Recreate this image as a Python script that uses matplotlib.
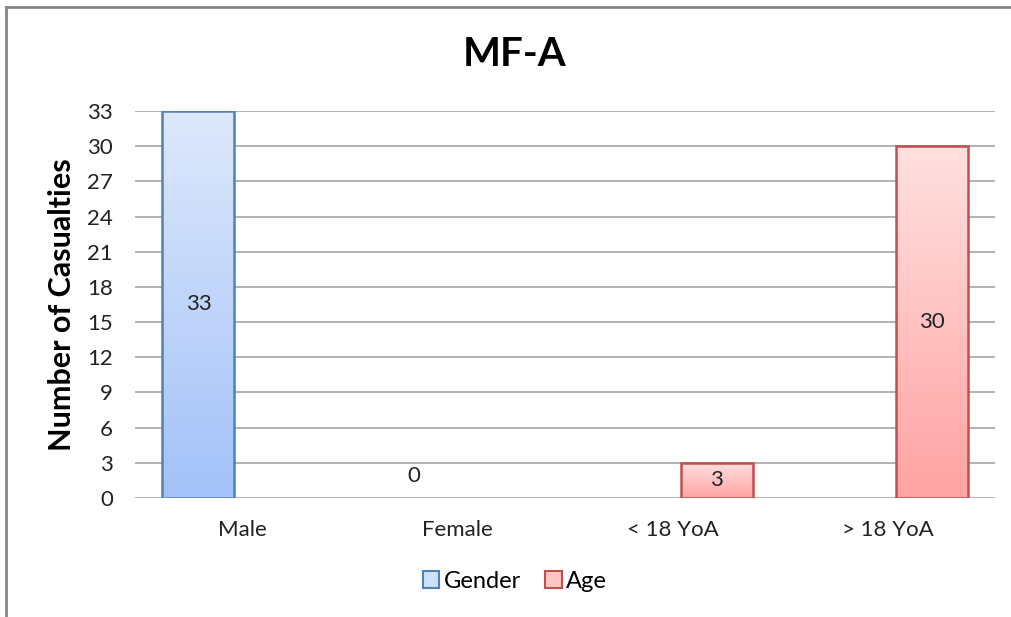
import numpy as np
import matplotlib
matplotlib.use('Agg')
import matplotlib.pyplot as plt
import matplotlib.patches as patches
from matplotlib.colors import LinearSegmentedColormap
from matplotlib.lines import Line2D

plt.rcParams['font.family'] = ['Lato', 'DejaVu Sans']

categories = ['Male', 'Female', '< 18 YoA', '> 18 YoA']
gender = [33, 0, None, None]
age = [None, None, 3, 30]
series_names = ['Gender', 'Age']
yticks = list(range(0, 34, 3))

W, H = 1011, 617
fig = plt.figure(figsize=(W / 100, H / 100), dpi=100)
ax = fig.add_axes([135 / W, 1 - 498 / H, (995 - 135) / W, (498 - 111) / H])

# chart border (only top and left show in the crop)
fig.add_artist(Line2D([5.5 / W, 5.5 / W], [0, 1 - 6.5 / H], color='#868686', lw=2, transform=fig.transFigure))
fig.add_artist(Line2D([5.5 / W, 1], [1 - 6.5 / H, 1 - 6.5 / H], color='#868686', lw=2, transform=fig.transFigure))

blue_cm = LinearSegmentedColormap.from_list('b', ['#dde8fb', '#a3c2f9'])
red_cm = LinearSegmentedColormap.from_list('r', ['#ffe0e0', '#ffa3a3'])

x = np.arange(len(categories))
bw = 0.335
off = 0.205
grad = np.linspace(0, 1, 100).reshape(-1, 1)

def draw(vals, shift, cmap, edge):
    for xi, v in zip(x, vals):
        if v is None:
            continue
        xc = xi + shift
        if v > 0:
            rect = ax.bar(xc, v, width=bw, color='none', edgecolor=edge, linewidth=1.8, zorder=3)[0]
            im = ax.imshow(grad, cmap=cmap, aspect='auto', extent=(xc - bw / 2, xc + bw / 2, 0, v),
                           origin='upper', zorder=2)
            im.set_clip_path(rect)
            ax.text(xc, v / 2, str(v), ha='center', va='center', fontsize=16, color='#222222', zorder=4)
        else:
            ax.text(xc, 1.9, str(v), ha='center', va='center', fontsize=16, color='#222222', zorder=4)

draw(gender, -off, blue_cm, '#4f81bd')
draw(age, off, red_cm, '#c0504d')

ax.set_xlim(-0.5, 3.5)
ax.set_ylim(0, 33)
ax.set_yticks(yticks)
ax.set_xticks(x)
ax.set_xticklabels(categories)
ax.tick_params(axis='both', length=0, labelsize=16, colors='#222222')
ax.tick_params(axis='x', pad=16)
ax.tick_params(axis='y', pad=16)
ax.grid(axis='y', color='#a6a6a6', lw=1.2)
ax.set_axisbelow(True)
for s in ax.spines.values():
    s.set_visible(False)

fig.text(62 / W, 1 - 305 / H, 'Number of Casualties', rotation=90, ha='center', va='center',
         fontsize=22, fontweight='bold')
fig.text(515 / W, 1 - 55 / H, 'MF-A', ha='center', va='center', fontsize=29, fontweight='bold')

handles = [patches.Patch(facecolor='#cfe0fb', edgecolor='#4f81bd', lw=1.5),
           patches.Patch(facecolor='#ffc6c6', edgecolor='#c0504d', lw=1.5)]
fig.legend(handles, series_names, loc='center', bbox_to_anchor=(515 / W, 1 - 581 / H), ncol=2,
           frameon=False, fontsize=17, handlelength=0.7, handleheight=0.7, handletextpad=0.2,
           columnspacing=1.0)

fig.savefig('out.png', dpi=100)
